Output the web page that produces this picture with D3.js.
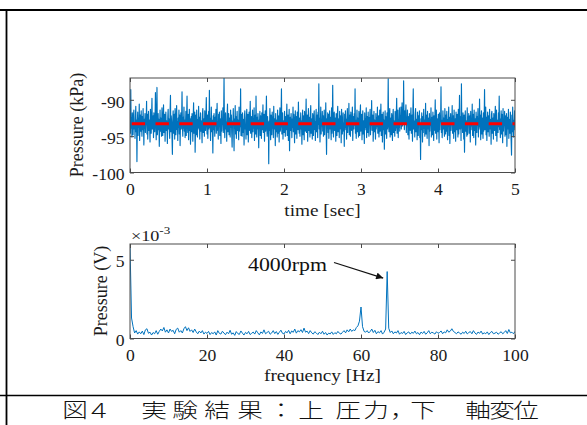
<!DOCTYPE html>
<html>
<head>
<meta charset="utf-8">
<script src="https://cdn.jsdelivr.net/npm/d3@7"></script>
<style>
  html, body { margin: 0; padding: 0; background: #fff; }
  svg { display: block; }
  .cap { font-feature-settings: "palt"; }
</style>
</head>
<body>
<svg id="fig" width="587" height="425"></svg>
<script>
// Pressure time history [kPa], evenly sampled over 0–5 s
const pressureKPa = [
  -92.0,-94.6,-88.6,-93.9,-92.4,-95.1,-91.8,-93.5,-94.8,-92.2,-91.4,-94.0,-93.1,-95.3,-92.6,-90.9,-94.4,-92.8,-98.5,-93.3,
  -91.7,-94.9,-92.5,-93.8,-90.6,-95.6,-93.0,-92.1,-94.3,-91.5,-93.6,-95.0,-92.3,-94.1,-91.2,-93.4,-96.2,-92.7,-93.9,-91.9,
  -94.5,-92.9,-93.2,-90.2,-94.7,-92.0,-95.4,-93.5,-91.6,-94.2,-92.8,-93.7,-95.8,-91.3,-93.0,-94.6,-92.4,-89.8,-94.0,-93.1,
  -92.2,-95.2,-91.8,-93.9,-94.4,-92.6,-89.0,-93.3,-95.5,-92.1,-88.3,-94.8,-93.4,-91.9,-94.1,-92.7,-96.4,-93.6,-91.4,-94.3,
  -92.5,-93.8,-95.0,-91.1,-93.2,-94.9,-92.3,-90.7,-94.5,-93.0,-92.0,-95.7,-93.5,-91.7,-94.2,-92.9,-93.6,-96.0,-92.4,-91.3,
  -94.0,-92.6,-93.9,-95.3,-91.6,-89.4,-94.4,-92.2,-93.1,-95.1,-97.5,-92.8,-91.5,-94.6,-93.3,-92.0,-95.4,-91.2,-93.7,-94.8,
  -92.3,-90.8,-94.1,-93.0,-95.6,-92.5,-93.8,-91.4,-94.7,-92.1,-96.3,-93.2,-91.8,-94.0,-92.7,-88.9,-93.5,-95.0,-92.4,-93.9,
  -91.0,-94.3,-92.8,-95.2,-93.4,-91.6,-94.9,-92.2,-89.5,-93.7,-94.5,-92.0,-95.5,-93.1,-91.3,-94.2,-92.6,-96.1,-93.6,-92.3,
  -94.4,-91.9,-93.0,-95.7,-92.5,-90.4,-94.6,-93.3,-91.7,-97.2,-93.9,-92.1,-94.8,-91.4,-93.5,-95.1,-92.7,-93.8,-90.9,-94.0,
  -92.4,-95.4,-93.2,-91.8,-94.3,-92.9,-93.6,-95.9,-92.0,-91.2,-94.5,-93.0,-92.6,-95.0,-91.5,-93.7,-94.2,-92.3,-89.7,-93.4,
  -94.7,-92.1,-95.3,-93.1,-91.6,-94.0,-88.7,-93.8,-92.5,-95.6,-93.3,-91.0,-94.4,-92.8,-93.9,-97.3,-92.2,-94.1,-91.9,-93.5,
  -95.0,-92.4,-93.6,-91.3,-94.6,-92.9,-90.5,-94.2,-93.0,-95.4,-92.0,-93.7,-91.7,-94.9,-92.6,-93.2,-96.0,-91.5,-94.3,-92.8,
  -93.4,-91.1,-94.5,-92.3,-86.9,-93.9,-95.2,-92.7,-91.8,-94.0,-93.1,-95.7,-92.2,-90.6,-94.4,-93.5,-91.9,-94.8,-92.5,-93.6,
  -95.1,-91.4,-93.8,-92.1,-94.6,-96.5,-92.9,-93.3,-91.2,-94.1,-97.0,-92.6,-93.9,-90.8,-94.7,-92.3,-95.3,-93.0,-91.6,-94.2,
  -92.8,-93.5,-95.5,-91.0,-94.3,-92.4,-93.7,-88.5,-94.9,-92.0,-93.2,-95.0,-91.8,-94.5,-92.7,-93.4,-96.2,-92.2,-91.5,-94.0,
  -93.6,-95.4,-92.5,-91.3,-94.8,-93.1,-92.0,-95.8,-93.5,-91.7,-94.2,-92.9,-90.2,-94.6,-93.0,-92.3,-95.2,-93.8,-91.4,-94.4,
  -92.6,-93.9,-91.1,-95.6,-93.3,-92.1,-94.7,-89.5,-93.7,-95.1,-92.4,-94.0,-91.9,-93.5,-96.6,-92.8,-93.2,-91.6,-94.9,-92.2,
  -93.8,-95.3,-91.8,-94.1,-92.7,-90.7,-94.5,-93.4,-92.0,-95.7,-93.0,-91.5,-94.3,-92.5,-89.5,-93.9,-95.0,-92.3,-94.6,-93.1,
  -98.8,-92.9,-94.2,-91.2,-93.6,-95.5,-92.1,-93.3,-94.8,-91.7,-93.9,-92.4,-95.2,-90.9,-94.0,-93.5,-92.6,-96.3,-91.9,-94.4,
  -92.8,-93.7,-95.1,-91.4,-94.6,-92.2,-93.0,-95.8,-92.5,-91.1,-94.3,-93.6,-92.0,-88.5,-94.7,-93.2,-91.8,-95.4,-92.9,-93.9,
  -94.5,-91.6,-93.3,-95.0,-92.3,-94.1,-92.7,-90.6,-94.9,-93.4,-92.1,-95.6,-93.0,-91.3,-97.0,-93.7,-92.4,-94.2,-91.9,-93.5,
  -95.2,-92.6,-93.8,-91.0,-94.4,-92.0,-93.6,-95.9,-92.8,-91.5,-94.7,-93.1,-92.3,-95.3,-91.7,-93.9,-94.1,-90.3,-93.2,-94.6,
  -92.5,-95.0,-93.5,-91.8,-94.0,-92.9,-96.1,-93.3,-91.4,-94.8,-92.2,-93.7,-95.5,-91.6,-93.0,-94.3,-92.7,-89.9,-94.5,-93.4,
  -92.1,-95.7,-93.6,-91.2,-94.2,-92.4,-93.9,-95.1,-92.0,-90.8,-94.6,-93.2,-92.6,-95.4,-91.9,-93.5,-94.9,-92.3,-91.5,-94.1,
  -93.0,-95.6,-92.8,-91.3,-94.4,-93.7,-92.1,-95.2,-91.7,-93.4,-87.8,-94.0,-92.5,-95.8,-93.1,-91.0,-94.7,-92.9,-93.6,-91.6,
  -94.3,-92.2,-95.0,-93.5,-91.4,-94.8,-92.7,-93.3,-90.4,-94.1,-97.5,-92.6,-93.9,-91.8,-94.5,-92.0,-95.3,-93.2,-91.5,-94.0,
  -92.4,-93.8,-95.5,-91.1,-94.6,-92.8,-88.0,-93.6,-95.1,-92.3,-91.7,-94.2,-93.0,-92.5,-95.7,-91.9,-93.4,-94.9,-92.1,-90.9,
  -94.4,-93.1,-92.6,-95.2,-91.6,-93.7,-94.0,-92.2,-95.9,-91.3,-93.5,-94.7,-92.9,-91.8,-94.3,-93.2,-96.4,-92.0,-93.8,-91.5,
  -94.1,-92.7,-95.4,-93.0,-91.2,-94.5,-92.4,-93.6,-90.5,-94.8,-93.3,-92.1,-95.0,-91.7,-93.9,-94.2,-92.6,-91.0,-95.6,-93.4,
  -92.3,-94.0,-91.9,-93.5,-88.5,-94.6,-92.8,-95.3,-93.1,-91.4,-94.4,-92.5,-93.7,-95.1,-91.6,-93.0,-94.9,-92.2,-90.7,-94.3,
  -93.6,-92.0,-95.5,-93.2,-91.5,-94.7,-92.9,-93.4,-96.0,-91.8,-94.1,-92.6,-93.8,-91.1,-95.2,-93.3,-92.3,-94.5,-91.7,-93.9,
  -95.0,-92.4,-93.1,-91.3,-94.8,-92.7,-93.5,-90.1,-94.2,-93.0,-92.1,-95.7,-93.6,-91.6,-94.4,-92.8,-93.2,-95.4,-91.9,-94.0,
  -92.5,-93.7,-91.0,-94.6,-93.3,-92.2,-95.1,-93.9,-91.4,-94.3,-92.6,-90.6,-94.9,-93.1,-92.0,-95.8,-93.4,-91.7,-94.1,-92.8,
  -96.8,-93.5,-91.5,-94.7,-92.3,-93.0,-95.3,-91.8,-94.0,-92.7,-87.1,-93.6,-94.4,-92.1,-91.2,-95.1,-93.2,-92.5,-94.8,-91.9,
  -93.4,-95.6,-92.4,-91.3,-94.5,-93.1,-92.9,-95.0,-91.6,-94.2,-93.7,-92.0,-89.8,-94.6,-93.3,-91.4,-95.2,-92.7,-93.8,-91.1,
  -94.3,-92.2,-93.0,-91.0,-94.0,-92.5,-90.4,-93.6,-91.8,-93.2,-87.4,-92.8,-94.1,-91.5,-93.4,-92.0,-90.7,-94.5,-92.6,-93.1,
  -91.4,-94.8,-92.3,-93.7,-95.4,-91.9,-93.0,-94.2,-92.4,-91.1,-94.6,-93.3,-92.1,-95.7,-91.6,-88.5,-94.0,-92.9,-93.5,-95.1,
  -92.0,-91.2,-94.4,-93.6,-92.7,-95.5,-91.7,-93.8,-94.9,-92.2,-93.1,-91.5,-95.2,-93.4,-98.2,-92.6,-94.1,-91.8,-93.0,-95.8,
  -92.3,-94.5,-91.3,-93.9,-92.8,-95.0,-93.2,-90.5,-94.7,-92.1,-93.6,-95.3,-91.6,-94.0,-92.5,-93.3,-96.3,-91.9,-94.3,-92.7,
  -93.5,-91.1,-95.1,-93.0,-92.4,-94.8,-91.7,-93.7,-95.6,-92.2,-94.2,-92.9,-90.0,-94.6,-93.3,-91.4,-95.4,-92.6,-93.8,-94.4,
  -92.0,-93.4,-95.9,-91.8,-94.1,-92.3,-93.0,-88.2,-94.5,-92.8,-95.2,-93.6,-91.5,-94.0,-92.5,-93.9,-95.0,-91.2,-93.2,-94.7,
  -92.1,-94.3,-91.6,-93.5,-95.5,-92.7,-93.1,-91.0,-94.9,-92.4,-96.0,-93.7,-91.9,-94.2,-92.9,-93.3,-90.8,-94.6,-93.0,-92.2,
  -95.3,-91.4,-93.8,-94.4,-92.6,-95.7,-91.7,-93.4,-94.1,-92.0,-93.6,-95.1,-91.3,-94.7,-92.8,-89.4,-94.0,-93.2,-92.3,-95.6,
  -87.8,-93.9,-92.5,-94.5,-91.8,-93.1,-95.4,-92.1,-97.2,-93.5,-91.5,-94.3,-92.9,-93.7,-95.0,-91.1,-94.8,-92.4,-93.3,-91.9,
  -94.6,-93.0,-92.2,-95.8,-91.6,-94.1,-92.7,-93.6,-90.6,-94.9,-93.4,-92.0,-95.2,-91.4,-93.8,-94.2,-92.6,-96.2,-91.7,-93.1,
  -94.5,-92.3,-93.5,-91.2,-95.1,-92.9,-94.0,-89.9,-93.7,-92.1,-95.5,-93.2,-91.5,-94.7,-92.5,-93.9,-95.3,-91.8,-94.3,-92.8,
  -88.6,-94.1,-93.3,-91.0,-94.8,-92.4,-95.6,-93.0,-91.7,-94.4,-92.2,-93.6,-95.0,-91.3,-94.0,-92.7,-93.4,-96.1,-92.0,-91.6,
  -94.6,-93.1,-92.5,-95.4,-91.9,-93.8,-94.2,-92.3,-90.9,-94.9,-93.5,-91.4,-95.7,-92.8,-93.0,-94.5,-91.8,-93.7,-89.5,-94.1,
  -92.6,-95.2,-93.3,-91.5,-94.7,-92.0,-93.9,-95.9,-91.2,-94.3,-92.9,-93.4,-91.6,-95.0,-93.6,-92.2,-94.8,-91.9,-96.4,-93.2,
  -92.4,-94.0,-91.3,-95.3,-93.0,-92.7,-94.6,-91.7,-93.8,-95.6,-97.6,-92.1,-94.4,-91.0,-93.5,-95.1,-92.8,-93.7,-91.5,-94.2
];
const timeRange = [0, 5];          // sec
const meanPressure = -93.3;        // kPa, dashed reference level

// Amplitude spectrum [x10^-3 V], bins every 0.4 Hz from 0 Hz
const freqStep = 0.4;
const spectrumMilliV = [
  6.0, 1.3, 0.75, 0.35, 0.5, 0.28, 0.42, 0.3, 0.47, 0.25,
  0.55, 0.62, 0.33, 0.4, 0.22, 0.38, 0.3, 0.5, 0.27, 0.45,
  0.6, 0.48, 0.7, 0.4, 0.55, 0.35, 0.6, 0.45, 0.52, 0.3,
  0.58, 0.66, 0.4, 0.5, 0.35, 0.62, 0.75, 0.5, 0.68, 0.45,
  0.55, 0.38, 0.6, 0.42, 0.3, 0.47, 0.35, 0.5, 0.28, 0.4,
  0.32,
  0.45, 0.25, 0.38, 0.3, 0.42, 0.22, 0.5, 0.33, 0.28, 0.46,
  0.35, 0.24, 0.4, 0.3, 0.52, 0.27, 0.36, 0.2, 0.44, 0.31,
  0.26, 0.48, 0.34, 0.22, 0.39, 0.3, 0.45, 0.25, 0.33, 0.41,
  0.28, 0.5, 0.36, 0.23, 0.42, 0.32, 0.55, 0.3, 0.38, 0.46,
  0.27, 0.35, 0.5, 0.31, 0.44, 0.26, 0.4, 0.53, 0.33, 0.29,
  0.45, 0.36, 0.52, 0.3, 0.48, 0.39, 0.6, 0.34, 0.5, 0.42,
  0.56, 0.38, 0.66, 0.4, 0.47, 0.31, 0.5, 0.36, 0.28, 0.43,
  0.35, 0.25, 0.4, 0.3, 0.46, 0.27, 0.38, 0.22, 0.34, 0.29,
  0.42, 0.26, 0.37, 0.3, 0.45, 0.33, 0.28, 0.4, 0.5, 0.36,
  0.55, 0.42, 0.6, 0.45, 0.55, 0.5, 0.7, 0.8, 1.1, 2.0,
  0.75, 0.45, 0.4, 0.5,
  0.35, 0.45, 0.6, 0.38, 0.52,
  0.3, 0.44, 0.36, 0.5, 0.28, 0.4,
  0.6, 4.25, 0.65, 0.38,
  0.48, 0.3, 0.42, 0.35, 0.5, 0.27, 0.38, 0.32, 0.45, 0.25,
  0.36, 0.42, 0.28, 0.4, 0.33, 0.47, 0.3, 0.38, 0.24, 0.41,
  0.32, 0.45, 0.27, 0.36, 0.5, 0.3, 0.4, 0.35, 0.28, 0.43,
  0.33, 0.38, 0.48, 0.3, 0.42, 0.36, 0.55, 0.4, 0.47, 0.62,
  0.45, 0.38, 0.3, 0.42, 0.35, 0.27, 0.4, 0.32, 0.46, 0.29,
  0.38, 0.44, 0.3, 0.5, 0.35, 0.26, 0.41, 0.33, 0.47, 0.28,
  0.36, 0.3, 0.42, 0.25, 0.38, 0.45, 0.3, 0.34, 0.4, 0.27,
  0.35, 0.43, 0.3, 0.38, 0.5, 0.32, 0.57, 0.36, 0.4, 0.3, 0.45
];

const timeTicks = [0, 1, 2, 3, 4, 5];
const pressureTicks = [-100, -95, -90];
const freqTicks = [0, 20, 40, 60, 80, 100];
const voltTicks = [0, 5];
const peakLabel = "4000rpm";
const peakFreq = 66.8;
const captionChars = ["図", "４", "実", "験", "結", "果", "：", "上", "圧", "力", "，", "下", "軸", "変", "位"];

const svg = d3.select("#fig");
const SERIF = "'Liberation Serif', 'Times New Roman', Tinos, serif";
const TXT = "#1a1a1a";
const AXC = "#4a4a4a";
const BLUE = "#0072BD";
const SX = 1.1; // horizontal stretch of the figure lettering

// table rules around the figure cell
svg.append("line").attr("x1", 0).attr("x2", 587).attr("y1", 10).attr("y2", 10)
  .attr("stroke", "#000").attr("stroke-width", 2);
svg.append("line").attr("x1", 6.5).attr("x2", 6.5).attr("y1", 10).attr("y2", 425)
  .attr("stroke", "#000").attr("stroke-width", 1.8);
svg.append("line").attr("x1", 0).attr("x2", 587).attr("y1", 395.5).attr("y2", 395.5)
  .attr("stroke", "#000").attr("stroke-width", 1.5);

// shared axes frame with inward ticks on all four sides
function frame(g, x, y, xt, yt, clipId) {
  const [x0, x1] = x.range();
  const [y0, y1] = y.range(); // y0 bottom, y1 top
  svg.append("clipPath").attr("id", clipId).append("rect")
    .attr("x", x0).attr("y", y1).attr("width", x1 - x0).attr("height", y0 - y1);

  const fmt = d => String(d);
  const styleAxis = (sel) => {
    sel.select(".domain").remove();
    sel.selectAll(".tick line").attr("stroke", AXC).attr("stroke-width", 1);
    sel.selectAll(".tick text").attr("fill", TXT).attr("font-family", SERIF).attr("font-size", 16);
  };
  g.append("g").attr("transform", `translate(0,${y0})`)
    .call(d3.axisBottom(x).tickValues(xt).tickSize(-4).tickPadding(11).tickFormat(fmt))
    .call(styleAxis)
    .call(s => s.selectAll(".tick text").attr("transform", `scale(${SX},1)`));
  g.append("g").attr("transform", `translate(0,${y1})`)
    .call(d3.axisTop(x).tickValues(xt).tickSize(-4).tickFormat(""))
    .call(styleAxis);
  g.append("g").attr("transform", `translate(${x0},0)`)
    .call(d3.axisLeft(y).tickValues(yt).tickSize(-4).tickPadding(5).tickFormat(fmt))
    .call(styleAxis)
    .call(s => s.selectAll(".tick text").attr("transform", `scale(${SX},1)`).attr("dy", "0.45em"));
  g.append("g").attr("transform", `translate(${x1},0)`)
    .call(d3.axisRight(y).tickValues(yt).tickSize(-4).tickFormat(""))
    .call(styleAxis);
  g.append("rect").attr("x", x0).attr("y", y1).attr("width", x1 - x0).attr("height", y0 - y1)
    .attr("fill", "none").attr("stroke", AXC).attr("stroke-width", 1);
}

// ---------- upper panel: pressure vs time ----------
const xT = d3.scaleLinear().domain(timeRange).range([130, 515]);
const yT = d3.scaleLinear().domain([-100, -87]).range([172.5, 78]);
const gT = svg.append("g");
const dt = (timeRange[1] - timeRange[0]) / (pressureKPa.length - 1);

gT.append("path")
  .datum(pressureKPa)
  .attr("clip-path", "url(#clipT)")
  .attr("fill", "none").attr("stroke", BLUE).attr("stroke-width", 1.15)
  .attr("stroke-linejoin", "round")
  .attr("d", d3.line().x((d, i) => xT(timeRange[0] + i * dt)).y(d => yT(d)));

gT.append("line")
  .attr("x1", xT(timeRange[0])).attr("x2", xT(timeRange[1]))
  .attr("y1", yT(meanPressure)).attr("y2", yT(meanPressure))
  .attr("stroke", "#ff0000").attr("stroke-width", 3)
  .attr("stroke-dasharray", "13.4,10.4").attr("stroke-dashoffset", 22.1);

frame(gT, xT, yT, timeTicks, pressureTicks, "clipT");

gT.append("text").attr("transform", `translate(322.5,216) scale(${SX},1)`)
  .attr("text-anchor", "middle").attr("font-family", SERIF).attr("font-size", 17.5)
  .attr("fill", TXT).text("time [sec]");
gT.append("text").attr("transform", "translate(83,125) rotate(-90)")
  .attr("text-anchor", "middle").attr("font-family", SERIF).attr("font-size", 18)
  .attr("fill", TXT).text("Pressure (kPa)");

// ---------- lower panel: spectrum ----------
const xB = d3.scaleLinear().domain([0, 100]).range([130, 515]);
const yB = d3.scaleLinear().domain([0, 6]).range([338.5, 244]);
const gB = svg.append("g");

gB.append("path")
  .datum(spectrumMilliV)
  .attr("clip-path", "url(#clipB)")
  .attr("fill", "none").attr("stroke", BLUE).attr("stroke-width", 1)
  .attr("stroke-linejoin", "round")
  .attr("d", d3.line().x((d, i) => xB(i * freqStep)).y(d => yB(d)));

frame(gB, xB, yB, freqTicks, voltTicks, "clipB");

gB.append("text").attr("transform", `translate(322.5,381) scale(${SX},1)`)
  .attr("text-anchor", "middle").attr("font-family", SERIF).attr("font-size", 17.5)
  .attr("fill", TXT).text("frequency [Hz]");
gB.append("text").attr("transform", "translate(107,291) rotate(-90)")
  .attr("text-anchor", "middle").attr("font-family", SERIF).attr("font-size", 18)
  .attr("fill", TXT).text("Pressure (V)");

// exponent marker above the y axis
const expo = gB.append("text").attr("transform", "translate(131,241) scale(1.25,1)")
  .attr("font-family", SERIF).attr("fill", TXT).attr("font-size", 14.5);
expo.append("tspan").text("×10");
expo.append("tspan").attr("font-size", 10.5).attr("dy", -7).text("-3");

// peak annotation
const peakIdx = Math.round(peakFreq / freqStep);
const tipX = xB(peakFreq) - 4, tipY = yB(spectrumMilliV[peakIdx]) + 6.5;
svg.append("defs").append("marker")
  .attr("id", "arrowhead").attr("viewBox", "0 0 10 10").attr("refX", 10).attr("refY", 5)
  .attr("markerWidth", 9).attr("markerHeight", 7).attr("markerUnits", "userSpaceOnUse")
  .attr("orient", "auto")
  .append("path").attr("d", "M0,0 L10,5 L0,10 Z").attr("fill", "#111");
gB.append("line")
  .attr("x1", 334).attr("y1", 262.5).attr("x2", tipX).attr("y2", tipY)
  .attr("stroke", "#111").attr("stroke-width", 1.2).attr("marker-end", "url(#arrowhead)");
gB.append("text").attr("transform", "translate(248,271) scale(1.15,1)")
  .attr("font-family", SERIF).attr("font-size", 19).attr("fill", "#111").text(peakLabel);

// ---------- caption (glyphs set individually, widened) ----------
const CJK = "'Noto Sans CJK JP', 'Noto Sans CJK SC', sans-serif";
const capCenters = [75, 99, 154, 185, 217, 250, 281, 311, 348, 376, 398, 423, 478, 502, 526];
captionChars.forEach((c, i) => {
  svg.append("text").attr("class", "cap")
    .attr("transform", `translate(${capCenters[i]},418) scale(1.28,1)`)
    .attr("text-anchor", "middle")
    .attr("font-family", CJK).attr("font-size", 20).attr("font-weight", 300).attr("fill", "#111")
    .text(c);
});
</script>
</body>
</html>
